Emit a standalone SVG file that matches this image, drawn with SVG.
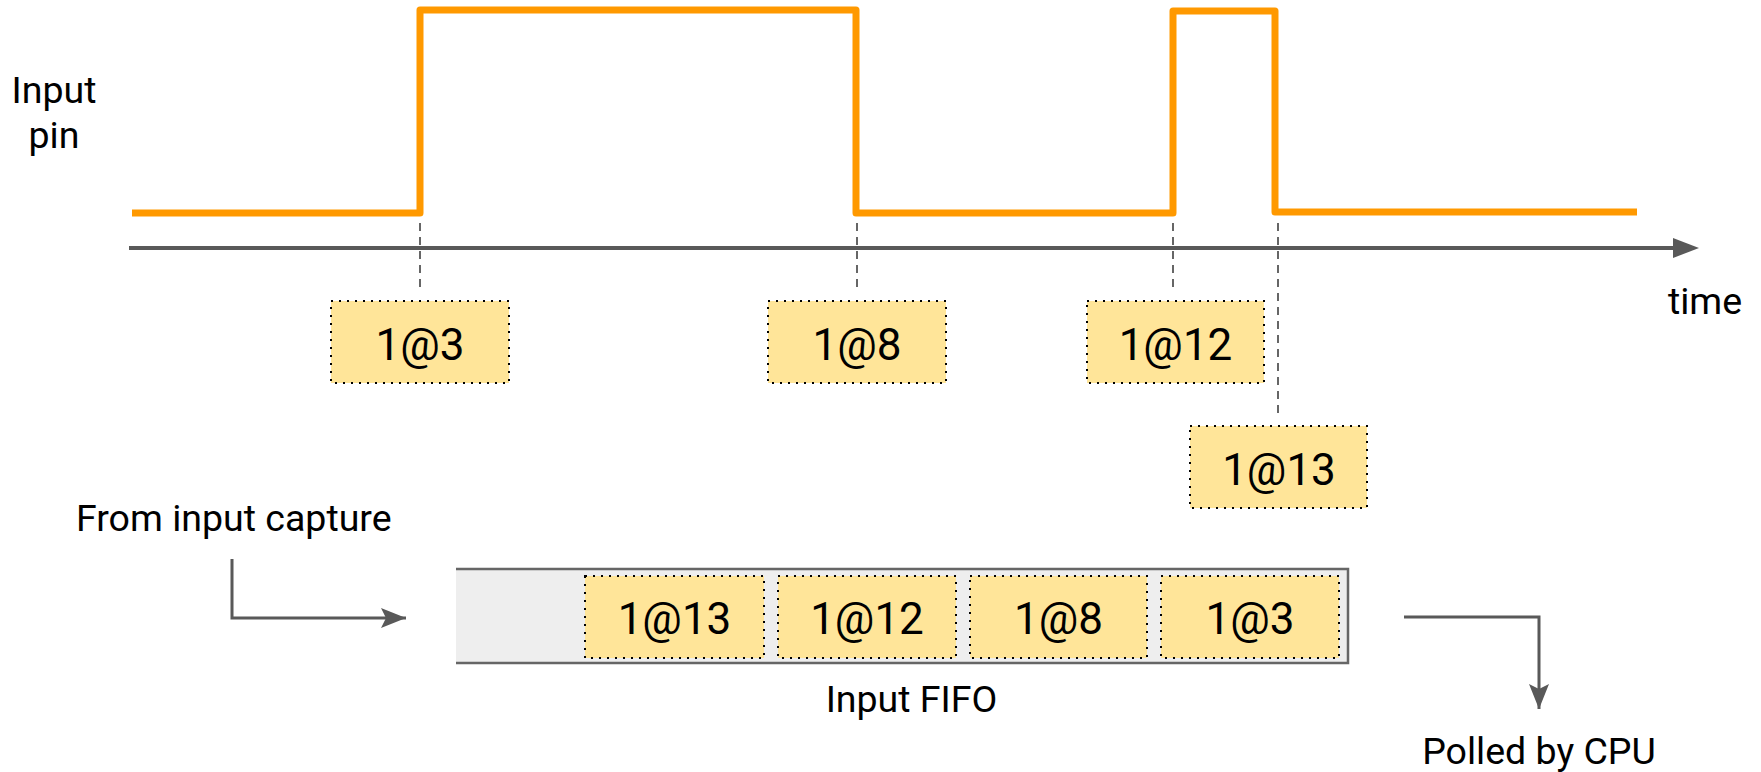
<svg xmlns="http://www.w3.org/2000/svg" width="1761" height="772" viewBox="0 0 1761 772">
<defs>
<style>
.lbl{font-family:Roboto,"Liberation Sans",sans-serif;font-size:37.5px;fill:#000}
.val{font-family:Roboto,"Liberation Sans",sans-serif;font-size:44px;fill:#000;text-anchor:middle}
.box{fill:#ffe599;stroke:#000;stroke-width:2;stroke-dasharray:2 6}
.dash{stroke:#666;stroke-width:2;stroke-dasharray:8 6;fill:none}
.conn{stroke:#595959;stroke-width:3;fill:none}
</style>
<marker id="open" viewBox="0 0 26 20" markerWidth="26" markerHeight="20" refX="25" refY="10" orient="auto" markerUnits="userSpaceOnUse">
<path d="M0,0 L25,10 L0,20 L5,10 Z" fill="#595959"/>
</marker>
</defs>

<g id="signal">
<text class="lbl" x="54" y="103" text-anchor="middle">Input</text>
<text class="lbl" x="54" y="148" text-anchor="middle">pin</text>
<path d="M132,213 H420 V10 H856 V213 H1173 V11 H1275 V212 H1637" fill="none" stroke="#ff9900" stroke-width="7" stroke-linejoin="round"/>
</g>

<g id="axis">
<line x1="129" y1="248" x2="1675" y2="248" stroke="#595959" stroke-width="4"/>
<path d="M1673,238 L1699,248 L1673,258 Z" fill="#595959"/>
<text class="lbl" x="1705" y="314" text-anchor="middle">time</text>
</g>

<g id="connectors">
<line class="dash" x1="420" y1="223" x2="420" y2="290"/>
<line class="dash" x1="857" y1="223" x2="857" y2="290"/>
<line class="dash" x1="1173" y1="223" x2="1173" y2="290"/>
<line class="dash" x1="1278" y1="223" x2="1278" y2="415"/>
<path class="conn" d="M232,559 V618 H406" marker-end="url(#open)"/>
<path class="conn" d="M1404,617 H1539 V709" marker-end="url(#open)"/>
</g>

<g id="e3"><rect class="box" x="331" y="301" width="178" height="82"/><text class="val" x="420" y="360">1@3</text></g>
<g id="e8"><rect class="box" x="768" y="301" width="178" height="82"/><text class="val" x="857" y="360">1@8</text></g>
<g id="e12"><rect class="box" x="1087" y="301" width="177" height="82"/><text class="val" x="1175.5" y="360">1@12</text></g>
<g id="e13"><rect class="box" x="1190" y="426" width="177" height="82"/><text class="val" x="1279" y="485">1@13</text></g>

<g id="capture"><text class="lbl" x="76" y="531">From input capture</text></g>

<g id="fifo">
<rect x="456" y="569" width="892" height="94" fill="#eeeeee"/>
<path d="M456,569 H1348 V663 H456" fill="none" stroke="#666" stroke-width="2.5"/>
<rect class="box" x="585" y="576" width="179" height="82"/><text class="val" x="674.5" y="634">1@13</text>
<rect class="box" x="778" y="576" width="178" height="82"/><text class="val" x="867" y="634">1@12</text>
<rect class="box" x="970" y="576" width="177" height="82"/><text class="val" x="1058.5" y="634">1@8</text>
<rect class="box" x="1161" y="576" width="178" height="82"/><text class="val" x="1250" y="634">1@3</text>
<text class="lbl" x="911.5" y="712" text-anchor="middle">Input FIFO</text>
</g>

<g id="cpu"><text class="lbl" x="1539" y="764" text-anchor="middle">Polled by CPU</text></g>
</svg>
